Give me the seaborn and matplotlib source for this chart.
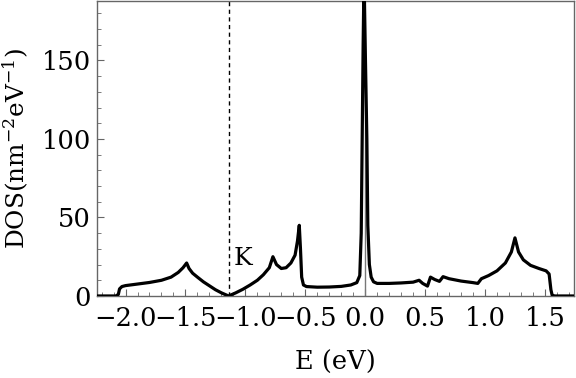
import numpy as np
import pandas as pd
import matplotlib
matplotlib.use("Agg")
from matplotlib import pyplot as plt
from matplotlib.ticker import MultipleLocator
import seaborn as sns

# energy (eV) and density of states
energy = [-2.24, -2.08, -2.06, -2.05, -2.03, -2.0, -1.9, -1.8, -1.7, -1.62,
          -1.56, -1.52, -1.49, -1.47, -1.44, -1.40, -1.35, -1.30, -1.25, -1.20,
          -1.14, -1.08, -1.02, -0.96, -0.90, -0.85, -0.80, -0.77, -0.74, -0.70,
          -0.66, -0.62, -0.585, -0.565, -0.55, -0.54, -0.53, -0.515, -0.49, -0.4,
          -0.3, -0.2, -0.12, -0.07, -0.045, -0.033, -0.025, -0.017, -0.01, 0.0,
          0.014, 0.022, 0.035, 0.05, 0.07, 0.1, 0.2, 0.3, 0.4, 0.45,
          0.48, 0.52, 0.545, 0.58, 0.62, 0.65, 0.7, 0.8, 0.9, 0.94,
          0.97, 1.03, 1.1, 1.17, 1.22, 1.25, 1.28, 1.32, 1.38, 1.45,
          1.51, 1.535, 1.55, 1.56, 1.58, 1.75]
dos = [0, 0, 1, 4.5, 6, 6.6, 7.6, 8.6, 10, 12,
       15, 18, 21, 17.5, 14.5, 12, 9, 6.5, 4, 2,
       0, 2, 4.3, 7, 10, 13.5, 18, 25, 20, 17.5,
       18, 21, 26, 35, 45, 30, 12, 7, 6, 5.6,
       5.7, 6.1, 7, 8.5, 13, 40, 100, 160, 200, 160,
       100, 45, 20, 12, 9, 8, 8, 8.3, 8.8, 10,
       8, 6.3, 12, 10.5, 9.3, 12.3, 11, 9.5, 8.5, 8,
       11, 13, 16, 21, 28, 37, 28, 23, 19.5, 17.5,
       16, 14, 4, 0.6, 0, 0]

k_point = -1.14
x_ticks = [-2.0, -1.5, -1.0, -0.5, 0.0, 0.5, 1.0, 1.5]
y_ticks = [0, 50, 100, 150]

df = pd.DataFrame({"E": energy, "DOS": dos})

sns.set_style("ticks")
plt.rcParams["font.family"] = ["DejaVu Serif"]
plt.rcParams["mathtext.fontset"] = "dejavuserif"
plt.rcParams["text.color"] = "black"
plt.rcParams["axes.labelcolor"] = "black"

fig = plt.figure(figsize=(5.76, 3.78), dpi=100)
ax = fig.add_axes([0.168, 0.217, 0.829, 0.781])

ax.axvline(0, color="#777777", lw=1.0, zorder=1)
ax.axvline(k_point, color="black", lw=1.0, ls=(0, (3, 2.5)), zorder=1)
sns.lineplot(data=df, x="E", y="DOS", sort=False, estimator=None,
             color="black", lw=2.3, ax=ax, zorder=3)
ax.text(k_point + 0.04, 24, "K", fontsize=18, ha="left", va="center")

ax.set_xlim(-2.24, 1.745)
ax.set_ylim(0, 188)
ax.set_xticks(x_ticks)
ax.set_xticklabels([f"{t:.1f}".replace("-", "\u2212") for t in x_ticks])
ax.set_yticks(y_ticks)
ax.xaxis.set_minor_locator(MultipleLocator(0.1))
ax.yaxis.set_minor_locator(MultipleLocator(10))

for s in ax.spines.values():
    s.set_color("#666666")
    s.set_linewidth(1.0)
ax.tick_params(which="both", direction="in", color="#666666", labelcolor="black",
               top=False, right=False, labelsize=18.5)
ax.tick_params(axis="x", which="both", pad=7)
ax.tick_params(axis="y", which="both", pad=4)
ax.tick_params(which="major", length=5)
ax.tick_params(which="minor", length=3)

ax.set_xlabel("E (eV)", fontsize=18.5, labelpad=14)
ax.set_ylabel("DOS(nm$^{-2}$eV$^{-1}$)", fontsize=17.8, labelpad=8)

fig.savefig("out.png", dpi=100)
